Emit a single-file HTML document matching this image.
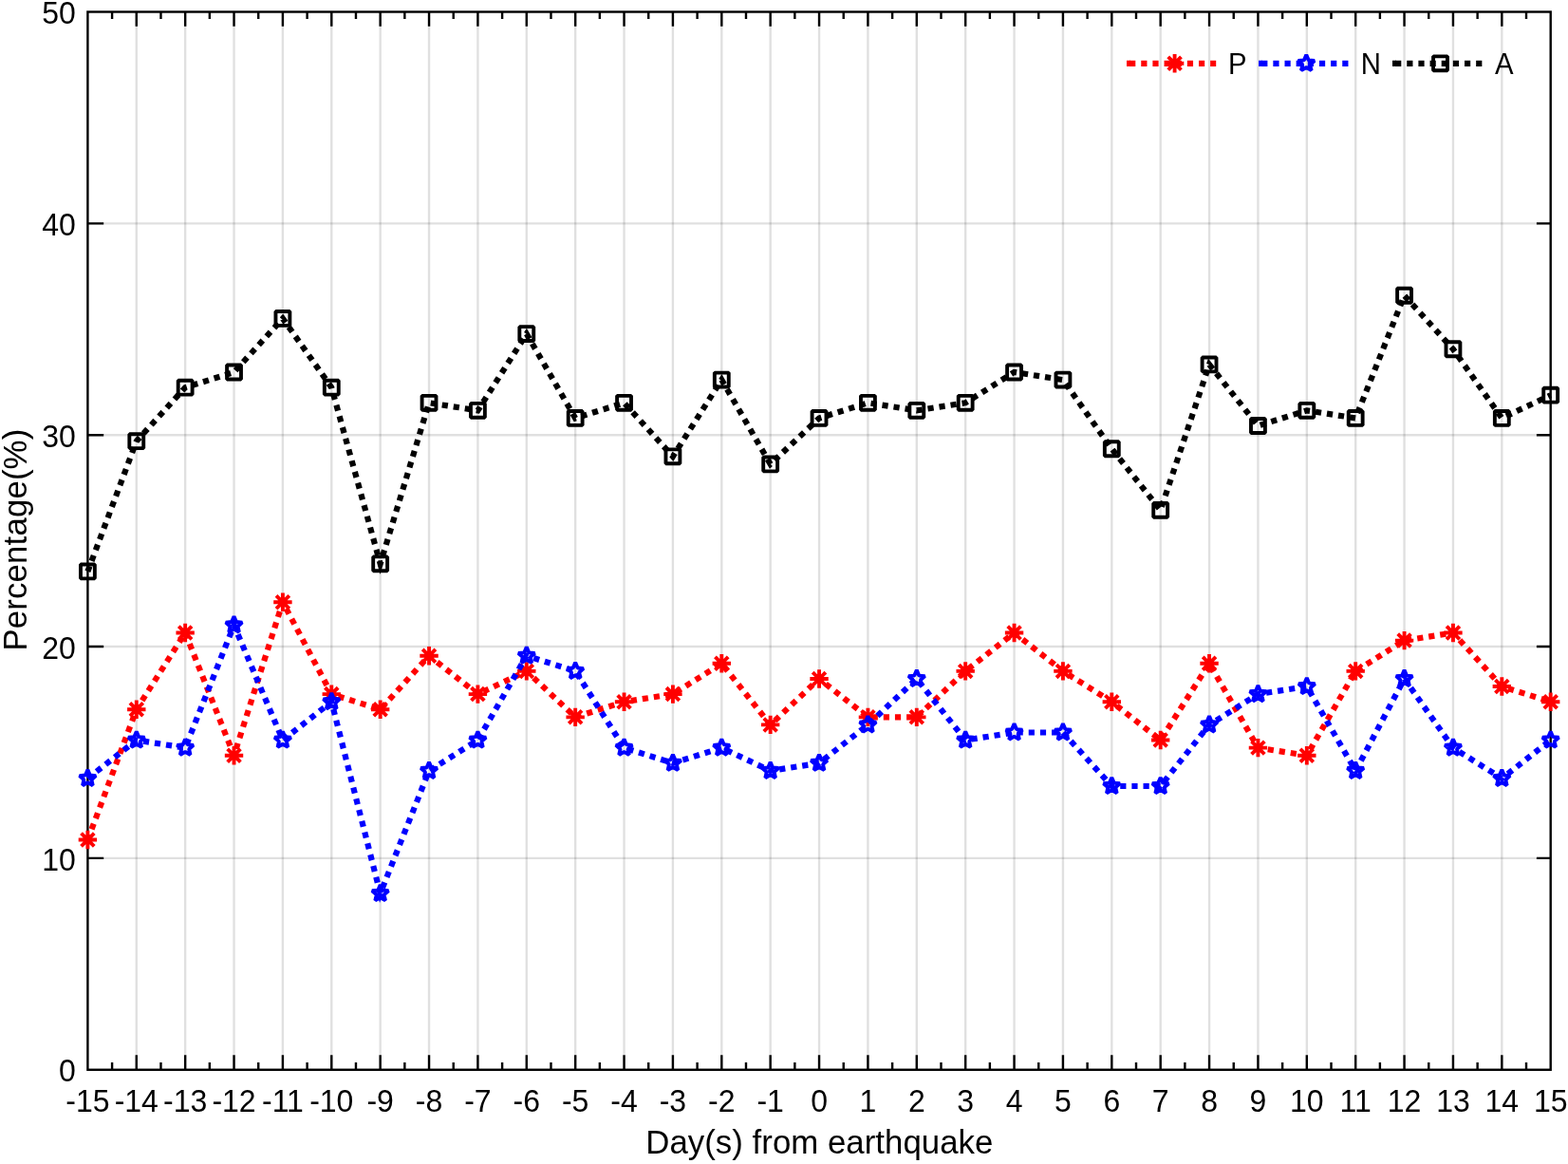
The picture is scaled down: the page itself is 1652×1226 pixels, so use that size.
<!DOCTYPE html>
<html lang="en"><head><meta charset="utf-8"><title>Percentage vs Day(s) from earthquake</title>
<style>html,body{margin:0;padding:0;background:#fff;}body{width:1652px;height:1226px;overflow:hidden;}svg{display:block;}text{font-family:"Liberation Sans",sans-serif;fill:#000;}</style></head><body>
<svg width="1652" height="1226" viewBox="0 0 1652 1226">
<rect x="0" y="0" width="1652" height="1226" fill="#fff"/>
<path d="M143.78 12.5V1126.75M195.15 12.5V1126.75M246.53 12.5V1126.75M297.91 12.5V1126.75M349.28 12.5V1126.75M400.66 12.5V1126.75M452.04 12.5V1126.75M503.41 12.5V1126.75M554.79 12.5V1126.75M606.17 12.5V1126.75M657.54 12.5V1126.75M708.92 12.5V1126.75M760.3 12.5V1126.75M811.67 12.5V1126.75M863.05 12.5V1126.75M914.43 12.5V1126.75M965.8 12.5V1126.75M1017.18 12.5V1126.75M1068.56 12.5V1126.75M1119.93 12.5V1126.75M1171.31 12.5V1126.75M1222.69 12.5V1126.75M1274.06 12.5V1126.75M1325.44 12.5V1126.75M1376.82 12.5V1126.75M1428.19 12.5V1126.75M1479.57 12.5V1126.75M1530.95 12.5V1126.75M1582.32 12.5V1126.75" stroke="#000" stroke-opacity="0.12" stroke-width="2.4" fill="none"/>
<path d="M92.4 903.9H1633.7M92.4 681.05H1633.7M92.4 458.2H1633.7M92.4 235.35H1633.7" stroke="#000" stroke-opacity="0.12" stroke-width="2.4" fill="none"/>
<path d="M143.78 1126.75v-15.6M143.78 12.5v15.2M195.15 1126.75v-15.6M195.15 12.5v15.2M246.53 1126.75v-15.6M246.53 12.5v15.2M297.91 1126.75v-15.6M297.91 12.5v15.2M349.28 1126.75v-15.6M349.28 12.5v15.2M400.66 1126.75v-15.6M400.66 12.5v15.2M452.04 1126.75v-15.6M452.04 12.5v15.2M503.41 1126.75v-15.6M503.41 12.5v15.2M554.79 1126.75v-15.6M554.79 12.5v15.2M606.17 1126.75v-15.6M606.17 12.5v15.2M657.54 1126.75v-15.6M657.54 12.5v15.2M708.92 1126.75v-15.6M708.92 12.5v15.2M760.3 1126.75v-15.6M760.3 12.5v15.2M811.67 1126.75v-15.6M811.67 12.5v15.2M863.05 1126.75v-15.6M863.05 12.5v15.2M914.43 1126.75v-15.6M914.43 12.5v15.2M965.8 1126.75v-15.6M965.8 12.5v15.2M1017.18 1126.75v-15.6M1017.18 12.5v15.2M1068.56 1126.75v-15.6M1068.56 12.5v15.2M1119.93 1126.75v-15.6M1119.93 12.5v15.2M1171.31 1126.75v-15.6M1171.31 12.5v15.2M1222.69 1126.75v-15.6M1222.69 12.5v15.2M1274.06 1126.75v-15.6M1274.06 12.5v15.2M1325.44 1126.75v-15.6M1325.44 12.5v15.2M1376.82 1126.75v-15.6M1376.82 12.5v15.2M1428.19 1126.75v-15.6M1428.19 12.5v15.2M1479.57 1126.75v-15.6M1479.57 12.5v15.2M1530.95 1126.75v-15.6M1530.95 12.5v15.2M1582.32 1126.75v-15.6M1582.32 12.5v15.2M118.09 1126.75v-7.7M118.09 12.5v7.5M169.47 1126.75v-7.7M169.47 12.5v7.5M220.84 1126.75v-7.7M220.84 12.5v7.5M272.22 1126.75v-7.7M272.22 12.5v7.5M323.6 1126.75v-7.7M323.6 12.5v7.5M374.97 1126.75v-7.7M374.97 12.5v7.5M426.35 1126.75v-7.7M426.35 12.5v7.5M477.73 1126.75v-7.7M477.73 12.5v7.5M529.1 1126.75v-7.7M529.1 12.5v7.5M580.48 1126.75v-7.7M580.48 12.5v7.5M631.86 1126.75v-7.7M631.86 12.5v7.5M683.23 1126.75v-7.7M683.23 12.5v7.5M734.61 1126.75v-7.7M734.61 12.5v7.5M785.98 1126.75v-7.7M785.98 12.5v7.5M837.36 1126.75v-7.7M837.36 12.5v7.5M888.74 1126.75v-7.7M888.74 12.5v7.5M940.12 1126.75v-7.7M940.12 12.5v7.5M991.49 1126.75v-7.7M991.49 12.5v7.5M1042.87 1126.75v-7.7M1042.87 12.5v7.5M1094.24 1126.75v-7.7M1094.24 12.5v7.5M1145.62 1126.75v-7.7M1145.62 12.5v7.5M1197 1126.75v-7.7M1197 12.5v7.5M1248.38 1126.75v-7.7M1248.38 12.5v7.5M1299.75 1126.75v-7.7M1299.75 12.5v7.5M1351.13 1126.75v-7.7M1351.13 12.5v7.5M1402.51 1126.75v-7.7M1402.51 12.5v7.5M1453.88 1126.75v-7.7M1453.88 12.5v7.5M1505.26 1126.75v-7.7M1505.26 12.5v7.5M1556.63 1126.75v-7.7M1556.63 12.5v7.5M1608.01 1126.75v-7.7M1608.01 12.5v7.5M92.4 903.9h16.8M1633.7 903.9h-14.8M92.4 681.05h16.8M1633.7 681.05h-14.8M92.4 458.2h16.8M1633.7 458.2h-14.8M92.4 235.35h16.8M1633.7 235.35h-14.8" stroke="#000" stroke-width="2.4" fill="none"/>
<rect x="92.4" y="12.5" width="1541.3" height="1114.25" stroke="#000" stroke-width="2.4" fill="none"/>
<path d="M92.4 884.52 L143.78 747.26 L195.15 666.52 L246.53 795.7 L297.91 634.22 L349.28 731.11 L400.66 747.26 L452.04 690.74 L503.41 731.11 L554.79 706.89 L606.17 755.33 L657.54 739.18 L708.92 731.11 L760.3 698.81 L811.67 763.41 L863.05 714.96 L914.43 755.33 L965.8 755.33 L1017.18 706.89 L1068.56 666.52 L1119.93 706.89 L1171.31 739.18 L1222.69 779.56 L1274.06 698.81 L1325.44 787.63 L1376.82 795.7 L1428.19 706.89 L1479.57 674.59 L1530.95 666.52 L1582.32 723.04 L1633.7 739.18" stroke="#ff0000" stroke-width="6.2" stroke-dasharray="6.2 5.95" stroke-dashoffset="0.3" fill="none" stroke-linejoin="miter"/><g stroke="#ff0000" fill="none"><path d="M82.7 884.52L102.1 884.52M85.54 877.66L99.26 891.38M92.4 874.82L92.4 894.22M99.26 877.66L85.54 891.38" stroke-width="3.9"/><path d="M134.08 747.26L153.48 747.26M136.92 740.4L150.64 754.12M143.78 737.56L143.78 756.96M150.64 740.4L136.92 754.12" stroke-width="3.9"/><path d="M185.45 666.52L204.85 666.52M188.29 659.66L202.01 673.38M195.15 656.82L195.15 676.22M202.01 659.66L188.29 673.38" stroke-width="3.9"/><path d="M236.83 795.7L256.23 795.7M239.67 788.85L253.39 802.56M246.53 786L246.53 805.4M253.39 788.85L239.67 802.56" stroke-width="3.9"/><path d="M288.21 634.22L307.61 634.22M291.05 627.36L304.77 641.08M297.91 624.52L297.91 643.92M304.77 627.36L291.05 641.08" stroke-width="3.9"/><path d="M339.58 731.11L358.98 731.11M342.42 724.25L356.14 737.97M349.28 721.41L349.28 740.81M356.14 724.25L342.42 737.97" stroke-width="3.9"/><path d="M390.96 747.26L410.36 747.26M393.8 740.4L407.52 754.12M400.66 737.56L400.66 756.96M407.52 740.4L393.8 754.12" stroke-width="3.9"/><path d="M442.34 690.74L461.74 690.74M445.18 683.88L458.9 697.6M452.04 681.04L452.04 700.44M458.9 683.88L445.18 697.6" stroke-width="3.9"/><path d="M493.71 731.11L513.11 731.11M496.55 724.25L510.27 737.97M503.41 721.41L503.41 740.81M510.27 724.25L496.55 737.97" stroke-width="3.9"/><path d="M545.09 706.89L564.49 706.89M547.93 700.03L561.65 713.75M554.79 697.19L554.79 716.59M561.65 700.03L547.93 713.75" stroke-width="3.9"/><path d="M596.47 755.33L615.87 755.33M599.31 748.47L613.03 762.19M606.17 745.63L606.17 765.03M613.03 748.47L599.31 762.19" stroke-width="3.9"/><path d="M647.84 739.18L667.24 739.18M650.68 732.33L664.4 746.04M657.54 729.48L657.54 748.88M664.4 732.33L650.68 746.04" stroke-width="3.9"/><path d="M699.22 731.11L718.62 731.11M702.06 724.25L715.78 737.97M708.92 721.41L708.92 740.81M715.78 724.25L702.06 737.97" stroke-width="3.9"/><path d="M750.6 698.81L770 698.81M753.44 691.95L767.16 705.67M760.3 689.11L760.3 708.51M767.16 691.95L753.44 705.67" stroke-width="3.9"/><path d="M801.97 763.41L821.37 763.41M804.81 756.55L818.53 770.27M811.67 753.71L811.67 773.11M818.53 756.55L804.81 770.27" stroke-width="3.9"/><path d="M853.35 714.96L872.75 714.96M856.19 708.1L869.91 721.82M863.05 705.26L863.05 724.66M869.91 708.1L856.19 721.82" stroke-width="3.9"/><path d="M904.73 755.33L924.13 755.33M907.57 748.47L921.29 762.19M914.43 745.63L914.43 765.03M921.29 748.47L907.57 762.19" stroke-width="3.9"/><path d="M956.1 755.33L975.5 755.33M958.94 748.47L972.66 762.19M965.8 745.63L965.8 765.03M972.66 748.47L958.94 762.19" stroke-width="3.9"/><path d="M1007.48 706.89L1026.88 706.89M1010.32 700.03L1024.04 713.75M1017.18 697.19L1017.18 716.59M1024.04 700.03L1010.32 713.75" stroke-width="3.9"/><path d="M1058.86 666.52L1078.26 666.52M1061.7 659.66L1075.42 673.38M1068.56 656.82L1068.56 676.22M1075.42 659.66L1061.7 673.38" stroke-width="3.9"/><path d="M1110.23 706.89L1129.63 706.89M1113.07 700.03L1126.79 713.75M1119.93 697.19L1119.93 716.59M1126.79 700.03L1113.07 713.75" stroke-width="3.9"/><path d="M1161.61 739.18L1181.01 739.18M1164.45 732.33L1178.17 746.04M1171.31 729.48L1171.31 748.88M1178.17 732.33L1164.45 746.04" stroke-width="3.9"/><path d="M1212.99 779.56L1232.39 779.56M1215.83 772.7L1229.55 786.42M1222.69 769.86L1222.69 789.26M1229.55 772.7L1215.83 786.42" stroke-width="3.9"/><path d="M1264.36 698.81L1283.76 698.81M1267.2 691.95L1280.92 705.67M1274.06 689.11L1274.06 708.51M1280.92 691.95L1267.2 705.67" stroke-width="3.9"/><path d="M1315.74 787.63L1335.14 787.63M1318.58 780.77L1332.3 794.49M1325.44 777.93L1325.44 797.33M1332.3 780.77L1318.58 794.49" stroke-width="3.9"/><path d="M1367.12 795.7L1386.52 795.7M1369.96 788.85L1383.68 802.56M1376.82 786L1376.82 805.4M1383.68 788.85L1369.96 802.56" stroke-width="3.9"/><path d="M1418.49 706.89L1437.89 706.89M1421.33 700.03L1435.05 713.75M1428.19 697.19L1428.19 716.59M1435.05 700.03L1421.33 713.75" stroke-width="3.9"/><path d="M1469.87 674.59L1489.27 674.59M1472.71 667.73L1486.43 681.45M1479.57 664.89L1479.57 684.29M1486.43 667.73L1472.71 681.45" stroke-width="3.9"/><path d="M1521.25 666.52L1540.65 666.52M1524.09 659.66L1537.81 673.38M1530.95 656.82L1530.95 676.22M1537.81 659.66L1524.09 673.38" stroke-width="3.9"/><path d="M1572.62 723.04L1592.02 723.04M1575.46 716.18L1589.18 729.9M1582.32 713.34L1582.32 732.74M1589.18 716.18L1575.46 729.9" stroke-width="3.9"/><path d="M1624 739.18L1643.4 739.18M1626.84 732.33L1640.56 746.04M1633.7 729.48L1633.7 748.88M1640.56 732.33L1626.84 746.04" stroke-width="3.9"/></g>
<path d="M92.4 819.93 L143.78 779.56 L195.15 787.63 L246.53 658.44 L297.91 779.56 L349.28 739.18 L400.66 941.04 L452.04 811.85 L503.41 779.56 L554.79 690.74 L606.17 706.89 L657.54 787.63 L708.92 803.78 L760.3 787.63 L811.67 811.85 L863.05 803.78 L914.43 763.41 L965.8 714.96 L1017.18 779.56 L1068.56 771.48 L1119.93 771.48 L1171.31 828 L1222.69 828 L1274.06 763.41 L1325.44 731.11 L1376.82 723.04 L1428.19 811.85 L1479.57 714.96 L1530.95 787.63 L1582.32 819.93 L1633.7 779.56" stroke="#0000ff" stroke-width="6.2" stroke-dasharray="6.2 5.95" stroke-dashoffset="0.3" fill="none" stroke-linejoin="miter"/><g stroke="#0000ff" fill="none"><path d="M92.4 810.83 L94.86 816.54 L101.05 817.12 L96.38 821.22 L97.75 827.29 L92.4 824.11 L87.05 827.29 L88.42 821.22 L83.75 817.12 L89.94 816.54Z" stroke-width="3.9" stroke-linejoin="bevel"/><path d="M143.78 770.46 L146.24 776.17 L152.43 776.74 L147.76 780.85 L149.13 786.92 L143.78 783.74 L138.43 786.92 L139.8 780.85 L135.12 776.74 L141.32 776.17Z" stroke-width="3.9" stroke-linejoin="bevel"/><path d="M195.15 778.53 L197.61 784.24 L203.81 784.82 L199.13 788.92 L200.5 794.99 L195.15 791.82 L189.8 794.99 L191.17 788.92 L186.5 784.82 L192.69 784.24Z" stroke-width="3.9" stroke-linejoin="bevel"/><path d="M246.53 649.34 L248.99 655.06 L255.18 655.63 L250.51 659.74 L251.88 665.8 L246.53 662.63 L241.18 665.8 L242.55 659.74 L237.88 655.63 L244.07 655.06Z" stroke-width="3.9" stroke-linejoin="bevel"/><path d="M297.91 770.46 L300.37 776.17 L306.56 776.74 L301.89 780.85 L303.26 786.92 L297.91 783.74 L292.56 786.92 L293.93 780.85 L289.25 776.74 L295.45 776.17Z" stroke-width="3.9" stroke-linejoin="bevel"/><path d="M349.28 730.08 L351.74 735.8 L357.94 736.37 L353.26 740.48 L354.63 746.55 L349.28 743.37 L343.93 746.55 L345.3 740.48 L340.63 736.37 L346.82 735.8Z" stroke-width="3.9" stroke-linejoin="bevel"/><path d="M400.66 931.94 L403.12 937.66 L409.31 938.23 L404.64 942.34 L406.01 948.4 L400.66 945.23 L395.31 948.4 L396.68 942.34 L392.01 938.23 L398.2 937.66Z" stroke-width="3.9" stroke-linejoin="bevel"/><path d="M452.04 802.75 L454.5 808.47 L460.69 809.04 L456.02 813.15 L457.39 819.22 L452.04 816.04 L446.69 819.22 L448.06 813.15 L443.38 809.04 L449.58 808.47Z" stroke-width="3.9" stroke-linejoin="bevel"/><path d="M503.41 770.46 L505.87 776.17 L512.07 776.74 L507.39 780.85 L508.76 786.92 L503.41 783.74 L498.06 786.92 L499.43 780.85 L494.76 776.74 L500.95 776.17Z" stroke-width="3.9" stroke-linejoin="bevel"/><path d="M554.79 681.64 L557.25 687.35 L563.44 687.93 L558.77 692.03 L560.14 698.1 L554.79 694.93 L549.44 698.1 L550.81 692.03 L546.14 687.93 L552.33 687.35Z" stroke-width="3.9" stroke-linejoin="bevel"/><path d="M606.17 697.79 L608.63 703.5 L614.82 704.08 L610.15 708.18 L611.52 714.25 L606.17 711.07 L600.82 714.25 L602.19 708.18 L597.51 704.08 L603.71 703.5Z" stroke-width="3.9" stroke-linejoin="bevel"/><path d="M657.54 778.53 L660 784.24 L666.2 784.82 L661.52 788.92 L662.89 794.99 L657.54 791.82 L652.19 794.99 L653.56 788.92 L648.89 784.82 L655.08 784.24Z" stroke-width="3.9" stroke-linejoin="bevel"/><path d="M708.92 794.68 L711.38 800.39 L717.57 800.97 L712.9 805.07 L714.27 811.14 L708.92 807.96 L703.57 811.14 L704.94 805.07 L700.27 800.97 L706.46 800.39Z" stroke-width="3.9" stroke-linejoin="bevel"/><path d="M760.3 778.53 L762.76 784.24 L768.95 784.82 L764.28 788.92 L765.65 794.99 L760.3 791.82 L754.95 794.99 L756.32 788.92 L751.64 784.82 L757.84 784.24Z" stroke-width="3.9" stroke-linejoin="bevel"/><path d="M811.67 802.75 L814.13 808.47 L820.33 809.04 L815.65 813.15 L817.02 819.22 L811.67 816.04 L806.32 819.22 L807.69 813.15 L803.02 809.04 L809.21 808.47Z" stroke-width="3.9" stroke-linejoin="bevel"/><path d="M863.05 794.68 L865.51 800.39 L871.7 800.97 L867.03 805.07 L868.4 811.14 L863.05 807.96 L857.7 811.14 L859.07 805.07 L854.4 800.97 L860.59 800.39Z" stroke-width="3.9" stroke-linejoin="bevel"/><path d="M914.43 754.31 L916.89 760.02 L923.08 760.6 L918.41 764.7 L919.78 770.77 L914.43 767.59 L909.08 770.77 L910.45 764.7 L905.77 760.6 L911.97 760.02Z" stroke-width="3.9" stroke-linejoin="bevel"/><path d="M965.8 705.86 L968.26 711.58 L974.46 712.15 L969.78 716.26 L971.15 722.32 L965.8 719.15 L960.45 722.32 L961.82 716.26 L957.15 712.15 L963.34 711.58Z" stroke-width="3.9" stroke-linejoin="bevel"/><path d="M1017.18 770.46 L1019.64 776.17 L1025.83 776.74 L1021.16 780.85 L1022.53 786.92 L1017.18 783.74 L1011.83 786.92 L1013.2 780.85 L1008.53 776.74 L1014.72 776.17Z" stroke-width="3.9" stroke-linejoin="bevel"/><path d="M1068.56 762.38 L1071.02 768.1 L1077.21 768.67 L1072.54 772.78 L1073.91 778.84 L1068.56 775.67 L1063.21 778.84 L1064.58 772.78 L1059.9 768.67 L1066.1 768.1Z" stroke-width="3.9" stroke-linejoin="bevel"/><path d="M1119.93 762.38 L1122.39 768.1 L1128.59 768.67 L1123.91 772.78 L1125.28 778.84 L1119.93 775.67 L1114.58 778.84 L1115.95 772.78 L1111.28 768.67 L1117.47 768.1Z" stroke-width="3.9" stroke-linejoin="bevel"/><path d="M1171.31 818.9 L1173.77 824.62 L1179.96 825.19 L1175.29 829.3 L1176.66 835.36 L1171.31 832.19 L1165.96 835.36 L1167.33 829.3 L1162.66 825.19 L1168.85 824.62Z" stroke-width="3.9" stroke-linejoin="bevel"/><path d="M1222.69 818.9 L1225.15 824.62 L1231.34 825.19 L1226.67 829.3 L1228.04 835.36 L1222.69 832.19 L1217.34 835.36 L1218.71 829.3 L1214.03 825.19 L1220.23 824.62Z" stroke-width="3.9" stroke-linejoin="bevel"/><path d="M1274.06 754.31 L1276.52 760.02 L1282.72 760.6 L1278.04 764.7 L1279.41 770.77 L1274.06 767.59 L1268.71 770.77 L1270.08 764.7 L1265.41 760.6 L1271.6 760.02Z" stroke-width="3.9" stroke-linejoin="bevel"/><path d="M1325.44 722.01 L1327.9 727.72 L1334.09 728.3 L1329.42 732.4 L1330.79 738.47 L1325.44 735.3 L1320.09 738.47 L1321.46 732.4 L1316.79 728.3 L1322.98 727.72Z" stroke-width="3.9" stroke-linejoin="bevel"/><path d="M1376.82 713.94 L1379.28 719.65 L1385.47 720.22 L1380.8 724.33 L1382.17 730.4 L1376.82 727.22 L1371.47 730.4 L1372.84 724.33 L1368.16 720.22 L1374.36 719.65Z" stroke-width="3.9" stroke-linejoin="bevel"/><path d="M1428.19 802.75 L1430.65 808.47 L1436.85 809.04 L1432.17 813.15 L1433.54 819.22 L1428.19 816.04 L1422.84 819.22 L1424.21 813.15 L1419.54 809.04 L1425.73 808.47Z" stroke-width="3.9" stroke-linejoin="bevel"/><path d="M1479.57 705.86 L1482.03 711.58 L1488.22 712.15 L1483.55 716.26 L1484.92 722.32 L1479.57 719.15 L1474.22 722.32 L1475.59 716.26 L1470.92 712.15 L1477.11 711.58Z" stroke-width="3.9" stroke-linejoin="bevel"/><path d="M1530.95 778.53 L1533.41 784.24 L1539.6 784.82 L1534.93 788.92 L1536.3 794.99 L1530.95 791.82 L1525.6 794.99 L1526.97 788.92 L1522.29 784.82 L1528.49 784.24Z" stroke-width="3.9" stroke-linejoin="bevel"/><path d="M1582.32 810.83 L1584.78 816.54 L1590.98 817.12 L1586.3 821.22 L1587.67 827.29 L1582.32 824.11 L1576.97 827.29 L1578.34 821.22 L1573.67 817.12 L1579.86 816.54Z" stroke-width="3.9" stroke-linejoin="bevel"/><path d="M1633.7 770.46 L1636.16 776.17 L1642.35 776.74 L1637.68 780.85 L1639.05 786.92 L1633.7 783.74 L1628.35 786.92 L1629.72 780.85 L1625.05 776.74 L1631.24 776.17Z" stroke-width="3.9" stroke-linejoin="bevel"/></g>
<path d="M92.4 601.92 L143.78 464.66 L195.15 408.14 L246.53 391.99 L297.91 335.47 L349.28 408.14 L400.66 593.85 L452.04 424.29 L503.41 432.36 L554.79 351.62 L606.17 440.44 L657.54 424.29 L708.92 480.81 L760.3 400.07 L811.67 488.88 L863.05 440.44 L914.43 424.29 L965.8 432.36 L1017.18 424.29 L1068.56 391.99 L1119.93 400.07 L1171.31 472.73 L1222.69 537.33 L1274.06 383.92 L1325.44 448.51 L1376.82 432.36 L1428.19 440.44 L1479.57 311.25 L1530.95 367.77 L1582.32 440.44 L1633.7 416.21" stroke="#000000" stroke-width="6.2" stroke-dasharray="6.2 5.95" stroke-dashoffset="0.3" fill="none" stroke-linejoin="miter"/><g stroke="#000000" fill="none"><path d="M84.95 594.47h14.9v14.9h-14.9Z" stroke-width="3.9" stroke-linejoin="bevel"/><path d="M136.33 457.21h14.9v14.9h-14.9Z" stroke-width="3.9" stroke-linejoin="bevel"/><path d="M187.7 400.69h14.9v14.9h-14.9Z" stroke-width="3.9" stroke-linejoin="bevel"/><path d="M239.08 384.54h14.9v14.9h-14.9Z" stroke-width="3.9" stroke-linejoin="bevel"/><path d="M290.46 328.02h14.9v14.9h-14.9Z" stroke-width="3.9" stroke-linejoin="bevel"/><path d="M341.83 400.69h14.9v14.9h-14.9Z" stroke-width="3.9" stroke-linejoin="bevel"/><path d="M393.21 586.4h14.9v14.9h-14.9Z" stroke-width="3.9" stroke-linejoin="bevel"/><path d="M444.59 416.84h14.9v14.9h-14.9Z" stroke-width="3.9" stroke-linejoin="bevel"/><path d="M495.96 424.91h14.9v14.9h-14.9Z" stroke-width="3.9" stroke-linejoin="bevel"/><path d="M547.34 344.17h14.9v14.9h-14.9Z" stroke-width="3.9" stroke-linejoin="bevel"/><path d="M598.72 432.99h14.9v14.9h-14.9Z" stroke-width="3.9" stroke-linejoin="bevel"/><path d="M650.09 416.84h14.9v14.9h-14.9Z" stroke-width="3.9" stroke-linejoin="bevel"/><path d="M701.47 473.36h14.9v14.9h-14.9Z" stroke-width="3.9" stroke-linejoin="bevel"/><path d="M752.85 392.62h14.9v14.9h-14.9Z" stroke-width="3.9" stroke-linejoin="bevel"/><path d="M804.22 481.43h14.9v14.9h-14.9Z" stroke-width="3.9" stroke-linejoin="bevel"/><path d="M855.6 432.99h14.9v14.9h-14.9Z" stroke-width="3.9" stroke-linejoin="bevel"/><path d="M906.98 416.84h14.9v14.9h-14.9Z" stroke-width="3.9" stroke-linejoin="bevel"/><path d="M958.35 424.91h14.9v14.9h-14.9Z" stroke-width="3.9" stroke-linejoin="bevel"/><path d="M1009.73 416.84h14.9v14.9h-14.9Z" stroke-width="3.9" stroke-linejoin="bevel"/><path d="M1061.11 384.54h14.9v14.9h-14.9Z" stroke-width="3.9" stroke-linejoin="bevel"/><path d="M1112.48 392.62h14.9v14.9h-14.9Z" stroke-width="3.9" stroke-linejoin="bevel"/><path d="M1163.86 465.28h14.9v14.9h-14.9Z" stroke-width="3.9" stroke-linejoin="bevel"/><path d="M1215.24 529.88h14.9v14.9h-14.9Z" stroke-width="3.9" stroke-linejoin="bevel"/><path d="M1266.61 376.47h14.9v14.9h-14.9Z" stroke-width="3.9" stroke-linejoin="bevel"/><path d="M1317.99 441.06h14.9v14.9h-14.9Z" stroke-width="3.9" stroke-linejoin="bevel"/><path d="M1369.37 424.91h14.9v14.9h-14.9Z" stroke-width="3.9" stroke-linejoin="bevel"/><path d="M1420.74 432.99h14.9v14.9h-14.9Z" stroke-width="3.9" stroke-linejoin="bevel"/><path d="M1472.12 303.8h14.9v14.9h-14.9Z" stroke-width="3.9" stroke-linejoin="bevel"/><path d="M1523.5 360.32h14.9v14.9h-14.9Z" stroke-width="3.9" stroke-linejoin="bevel"/><path d="M1574.87 432.99h14.9v14.9h-14.9Z" stroke-width="3.9" stroke-linejoin="bevel"/><path d="M1626.25 408.76h14.9v14.9h-14.9Z" stroke-width="3.9" stroke-linejoin="bevel"/></g>
<path d="M1190.1 66.8H1281.2" stroke="#ff0000" stroke-width="6.2" stroke-dasharray="6.2 5.95" fill="none"/><path d="M1187 66.8H1191" stroke="#ff0000" stroke-width="6.2" fill="none"/><g stroke="#ff0000" fill="none"><path d="M1227.9 66.8L1247.3 66.8M1230.74 59.94L1244.46 73.66M1237.6 57.1L1237.6 76.5M1244.46 59.94L1230.74 73.66" stroke-width="3.9"/></g><text transform="translate(1294 78.4) scale(1 1.04)" font-size="29.3">P</text>
<path d="M1329.2 66.8H1421" stroke="#0000ff" stroke-width="6.2" stroke-dasharray="6.2 5.95" fill="none"/><path d="M1326.1 66.8H1330.1" stroke="#0000ff" stroke-width="6.2" fill="none"/><g stroke="#0000ff" fill="none"><path d="M1376.3 57.7 L1378.76 63.41 L1384.95 63.99 L1380.28 68.09 L1381.65 74.16 L1376.3 70.99 L1370.95 74.16 L1372.32 68.09 L1367.65 63.99 L1373.84 63.41Z" stroke-width="3.9" stroke-linejoin="bevel"/></g><text transform="translate(1433.7 78.4) scale(1 1.04)" font-size="29.3">N</text>
<path d="M1470.1 66.8H1562" stroke="#000000" stroke-width="6.2" stroke-dasharray="6.2 5.95" fill="none"/><path d="M1467 66.8H1471" stroke="#000000" stroke-width="6.2" fill="none"/><g stroke="#000000" fill="none"><path d="M1510.05 59.35h14.9v14.9h-14.9Z" stroke-width="3.9" stroke-linejoin="bevel"/></g><text transform="translate(1575 78.4) scale(1 1.04)" font-size="29.3">A</text>
<g font-size="32" text-anchor="middle"><text transform="translate(92.4 1170.9) scale(1 1.04)">-15</text><text transform="translate(143.78 1170.9) scale(1 1.04)">-14</text><text transform="translate(195.15 1170.9) scale(1 1.04)">-13</text><text transform="translate(246.53 1170.9) scale(1 1.04)">-12</text><text transform="translate(297.91 1170.9) scale(1 1.04)">-11</text><text transform="translate(349.28 1170.9) scale(1 1.04)">-10</text><text transform="translate(400.66 1170.9) scale(1 1.04)">-9</text><text transform="translate(452.04 1170.9) scale(1 1.04)">-8</text><text transform="translate(503.41 1170.9) scale(1 1.04)">-7</text><text transform="translate(554.79 1170.9) scale(1 1.04)">-6</text><text transform="translate(606.17 1170.9) scale(1 1.04)">-5</text><text transform="translate(657.54 1170.9) scale(1 1.04)">-4</text><text transform="translate(708.92 1170.9) scale(1 1.04)">-3</text><text transform="translate(760.3 1170.9) scale(1 1.04)">-2</text><text transform="translate(811.67 1170.9) scale(1 1.04)">-1</text><text transform="translate(863.05 1170.9) scale(1 1.04)">0</text><text transform="translate(914.43 1170.9) scale(1 1.04)">1</text><text transform="translate(965.8 1170.9) scale(1 1.04)">2</text><text transform="translate(1017.18 1170.9) scale(1 1.04)">3</text><text transform="translate(1068.56 1170.9) scale(1 1.04)">4</text><text transform="translate(1119.93 1170.9) scale(1 1.04)">5</text><text transform="translate(1171.31 1170.9) scale(1 1.04)">6</text><text transform="translate(1222.69 1170.9) scale(1 1.04)">7</text><text transform="translate(1274.06 1170.9) scale(1 1.04)">8</text><text transform="translate(1325.44 1170.9) scale(1 1.04)">9</text><text transform="translate(1376.82 1170.9) scale(1 1.04)">10</text><text transform="translate(1428.19 1170.9) scale(1 1.04)">11</text><text transform="translate(1479.57 1170.9) scale(1 1.04)">12</text><text transform="translate(1530.95 1170.9) scale(1 1.04)">13</text><text transform="translate(1582.32 1170.9) scale(1 1.04)">14</text><text transform="translate(1633.7 1170.9) scale(1 1.04)">15</text></g>
<g font-size="32" text-anchor="end"><text transform="translate(79.9 1139.35) scale(1 1.04)">0</text><text transform="translate(79.9 916.5) scale(1 1.04)">10</text><text transform="translate(79.9 693.65) scale(1 1.04)">20</text><text transform="translate(79.9 470.8) scale(1 1.04)">30</text><text transform="translate(79.9 247.95) scale(1 1.04)">40</text><text transform="translate(79.9 25.1) scale(1 1.04)">50</text></g>
<text transform="translate(680.3 1215.1) scale(1 1)" font-size="34.8" textLength="366" lengthAdjust="spacing">Day(s) from earthquake</text>
<text transform="translate(27.8 685.5) rotate(-90) scale(1 1)" font-size="34.8" textLength="233.8" lengthAdjust="spacing">Percentage(%)</text>
</svg></body></html>
